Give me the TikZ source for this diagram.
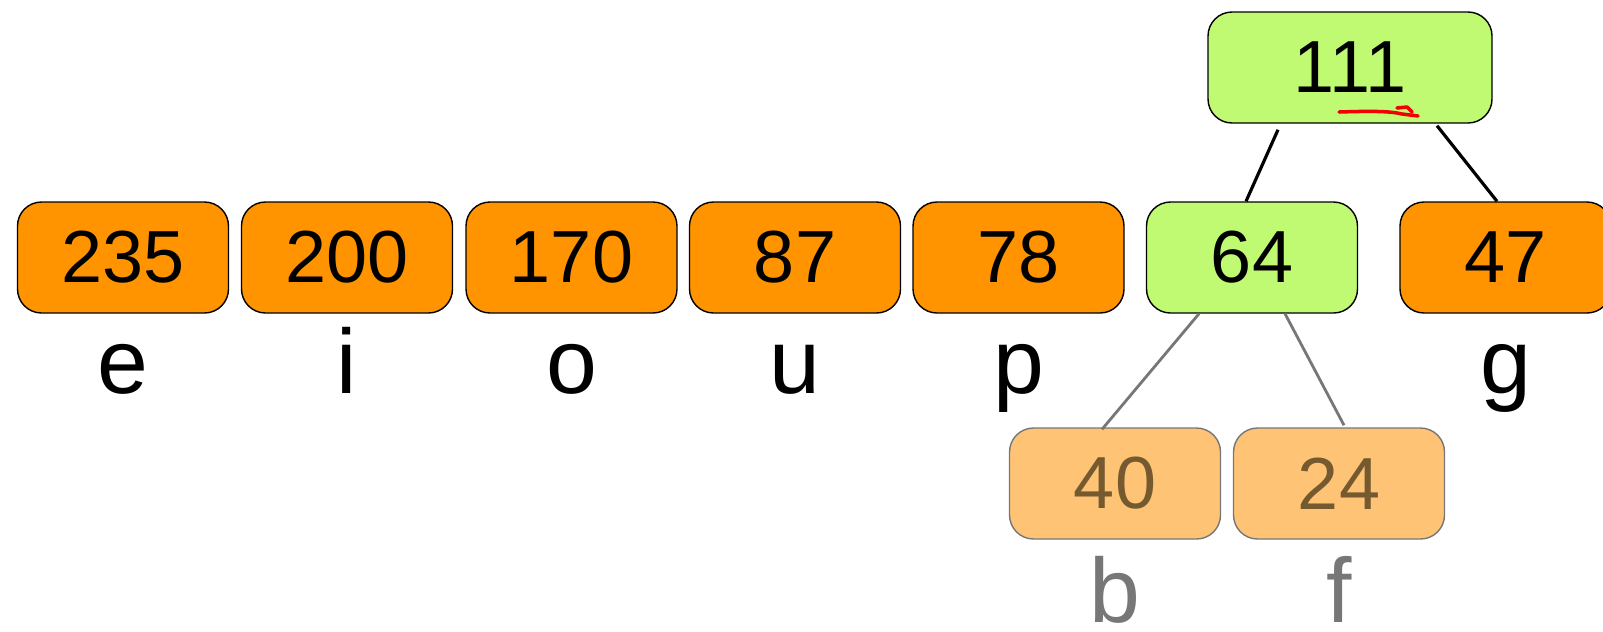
\documentclass[tikz,border=0pt]{standalone}
\usepackage{fontspec}
\setmainfont{Liberation Sans}
\usepackage{tikz}
\usetikzlibrary{positioning}

\definecolor{leaforange}{RGB}{255,148,0}
\definecolor{sumgreen}{RGB}{192,250,115}
\definecolor{fadeorange}{RGB}{254,195,116}
\definecolor{fadetext}{RGB}{118,90,47}
\definecolor{fadegray}{RGB}{119,119,119}
\definecolor{markred}{RGB}{240,0,0}

\begin{document}
\begin{tikzpicture}[
        % Styles
        leafbox/.style={rectangle, draw=black, line width=0.4pt, fill=leaforange, rounded corners=0.24cm, minimum width=2.11cm, minimum height=1.11cm, inner sep=0pt, font=\fontsize{21}{25}\selectfont},
        sumbox/.style={leafbox, fill=sumgreen},
        bigsum/.style={sumbox, minimum width=2.84cm},
        fadebox/.style={leafbox, draw=fadegray, fill=fadeorange, text=fadetext},
        letter/.style={anchor=base, inner sep=0pt, font=\fontsize{26}{30}\selectfont},
        fadeletter/.style={letter, text=fadegray},
        edge/.style={line width=0.9pt, color=black},
        fadeedge/.style={line width=0.8pt, color=fadegray}
    ]
    \useasboundingbox (0,0) rectangle (16.03,6.31);

    % ================= LEAF ROW =================
    \foreach \x/\w/\c in {1.23/235/e, 3.47/200/i, 5.715/170/o, 7.95/87/u, 10.185/78/p} {
        \node[leafbox] (w\w) at (\x, 3.735) {\w};
        \node[letter] (l\c) at ([yshift=-0.8cm]w\w.south) {\c};
    }

    % merged node and the last leaf
    \node[sumbox] (w64) at (12.52, 3.735) {64};
    \node[leafbox] (w47) at (15.055, 3.735) {47};
    \node[letter] (lg) at ([yshift=-0.8cm]w47.south) {g};

    % ================= NEW ROOT =================
    \node[bigsum] (w111) at (13.50, 5.635) {111};

    % hand drawn underline
    \draw[markred, line width=1pt, line cap=round, line join=round]
        (13.39,5.19) .. controls (13.70,5.20) and (13.90,5.20) .. (14.02,5.17) -- (14.18,5.15);
    \draw[markred, line width=1pt, line cap=round, line join=round]
        (13.97,5.23) -- (14.07,5.24) -- (14.12,5.19);

    % ================= FADED CHILDREN =================
    \node[fadebox] (w40) at (11.15, 1.475) {40};
    \node[fadebox] (w24) at (13.39, 1.475) {24};
    \node[fadeletter] (lb) at ([yshift=-0.83cm]w40.south) {b};
    \node[fadeletter] (lf) at ([yshift=-0.83cm]w24.south) {f};

    % Connections
    \draw[edge] ([xshift=-0.72cm, yshift=-0.06cm]w111.south) -- ([xshift=-0.06cm]w64.north);
    \draw[edge] ([xshift=0.87cm, yshift=-0.02cm]w111.south) -- ([xshift=-0.085cm]w47.north);
    \draw[fadeedge] ([xshift=-0.53cm]w64.south) -- ([xshift=-0.13cm, yshift=-0.02cm]w40.north);
    \draw[fadeedge] ([xshift=0.33cm]w64.south) -- ([xshift=0.05cm, yshift=0.02cm]w24.north);

\end{tikzpicture}
\end{document}
